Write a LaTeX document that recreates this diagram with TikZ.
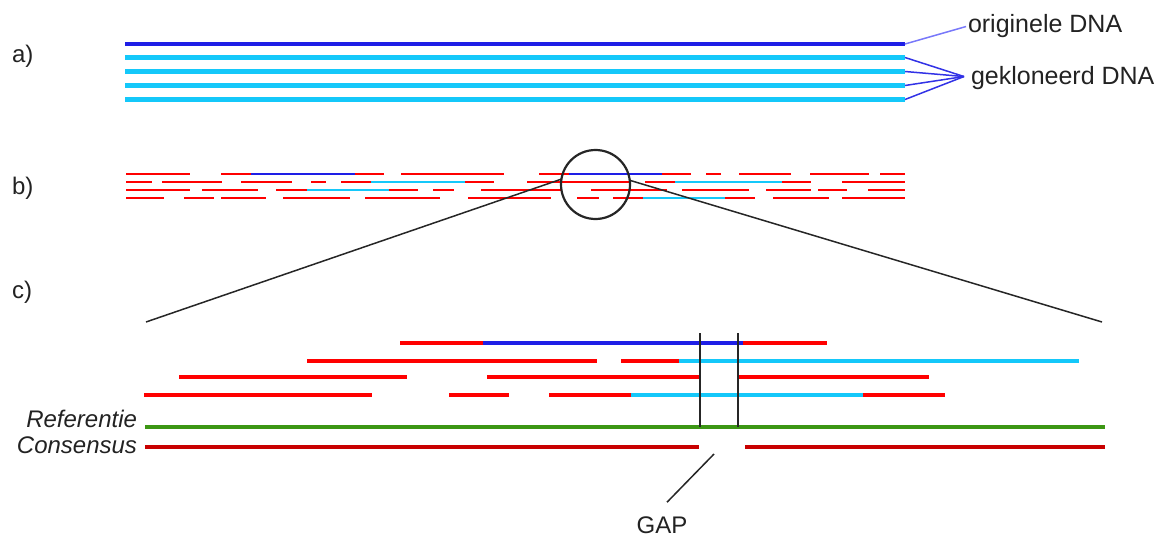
\documentclass[tikz,border=0pt]{standalone}
\usepackage{fontspec}
\setmainfont{Liberation Sans}
\definecolor{dnablue}{RGB}{30,30,230}
\definecolor{dnacyan}{RGB}{20,200,250}
\definecolor{dnared}{RGB}{255,0,0}
\definecolor{refgreen}{RGB}{60,150,20}
\definecolor{consred}{RGB}{200,0,0}
\definecolor{txt}{RGB}{34,34,34}
\definecolor{pointer}{RGB}{50,50,230}
\definecolor{lightpointer}{RGB}{120,120,250}
\begin{document}
\begin{tikzpicture}[x=0.5pt,y=-0.5pt,
  lbl/.style={font=\fontsize{12pt}{14pt}\selectfont, text=txt, inner sep=0pt, outer sep=0pt},
  biglbl/.style={lbl, font=\fontsize{12.5pt}{14pt}\selectfont},
  fa/.style={line width=2.25pt},
  fb/.style={line width=1.1pt},
  fc/.style={line width=1.75pt},
  thinblack/.style={line width=0.75pt, black!85},
]
\useasboundingbox (0,0) rectangle (1161,535);

% ---------- a) original and cloned DNA ----------
\node[lbl, anchor=base west] (la) at (12,63) {a)};
\coordinate (a0) at (905,44);
\coordinate (a1) at (905,57.5);
\coordinate (a2) at (905,71.5);
\coordinate (a3) at (905,85.5);
\coordinate (a4) at (905,99.5);
\draw[fa, dnablue] (125,44) -- (a0);
\foreach \c in {a1,a2,a3,a4} \draw[fa, dnacyan] (125,0 |- \c) -- (\c);

\node[biglbl, anchor=base west] (orig) at (968,33) {originele DNA};
\node[biglbl, anchor=base west] (klon) at (971,85) {gekloneerd DNA};
\draw[line width=0.75pt, lightpointer] (a0) -- ([xshift=-1pt]orig.west);
\foreach \c in {a1,a2,a3,a4} \draw[line width=0.75pt, pointer] (\c) -- ([xshift=-3.5pt,yshift=1pt]klon.west);

% ---------- b) fragment reads ----------
\node[lbl, anchor=base west] (lb) at (12,194) {b)};
% row 1
\foreach \p/\q in {126/190, 221/384, 401/504, 539/691, 706/721, 739/791, 810/869, 880/905}
  \draw[fb, dnared] (\p,174) -- (\q,174);
\foreach \p/\q in {251/355, 569/662}
  \draw[fb, dnablue] (\p,174) -- (\q,174);
% row 2
\foreach \p/\q in {126/152, 162/222, 241/292, 311/326, 341/494, 527/630, 645/811, 842/905}
  \draw[fb, dnared] (\p,182) -- (\q,182);
\foreach \p/\q in {371/465, 675/782}
  \draw[fb, dnacyan] (\p,182) -- (\q,182);
% row 3
\foreach \p/\q in {126/190, 202/258, 276/418, 433/454, 481/561, 591/667, 682/749, 766/811, 818/847, 868/905}
  \draw[fb, dnared] (\p,190) -- (\q,190);
\draw[fb, dnacyan] (307,190) -- (389,190);
% row 4
\foreach \p/\q in {126/164, 184/214, 221/266, 283/350, 365/440, 468/551, 577/599, 613/755, 773/829, 842/905}
  \draw[fb, dnared] (\p,198) -- (\q,198);
\draw[fb, dnacyan] (643,198) -- (725,198);

% magnifier
\node[draw, black!85, line width=1.1pt, circle, minimum size=34.5pt, inner sep=0pt, outer sep=0pt] (zoom) at (595.5,184.5) {};
\coordinate (zl) at (146,322);
\coordinate (zr) at (1102,322);
\draw[thinblack] (zoom.171) -- (zl);
\draw[thinblack] (zoom.7) -- (zr);

% ---------- c) enlarged alignment ----------
\node[lbl, anchor=base west] (lc) at (12,298) {c)};
% read 1
\draw[fc, dnared] (400,343) -- (827,343);
\draw[fc, dnablue] (483,343) -- (743,343);
% read 2
\draw[fc, dnared] (307,361) -- (597,361);
\draw[fc, dnared] (621,361) -- (679,361);
\draw[fc, dnacyan] (679,361) -- (1079,361);
% read 3
\foreach \p/\q in {179/407, 487/699, 739/929}
  \draw[fc, dnared] (\p,377) -- (\q,377);
% read 4
\foreach \p/\q in {144/372, 449/509, 549/945}
  \draw[fc, dnared] (\p,395) -- (\q,395);
\draw[fc, dnacyan] (631,395) -- (863,395);

% reference and consensus
\node[lbl, anchor=base east, font=\fontsize{12pt}{14pt}\selectfont\itshape] (ref) at (137,427) {Referentie};
\node[lbl, anchor=base east, font=\fontsize{12pt}{14pt}\selectfont\itshape] (cons) at (137,453) {Consensus};
\draw[line width=2pt, refgreen] (145,427) -- (1105,427);
\draw[fc, consred] (145,447) -- (699,447);
\draw[fc, consred] (745,447) -- (1105,447);

% gap boundaries
\coordinate (g1t) at (700,333);
\coordinate (g1b) at (700,427);
\coordinate (g2t) at (738,333);
\coordinate (g2b) at (738,427);
\draw[thinblack] (g1t) -- (g1b);
\draw[thinblack] (g2t) -- (g2b);

% gap label
\node[lbl, anchor=base] (gap) at (662,533) {GAP};
\coordinate (gp) at (714,454);
\draw[thinblack] (gp) -- ([xshift=2.5pt,yshift=7pt]gap.north);
\end{tikzpicture}
\end{document}
